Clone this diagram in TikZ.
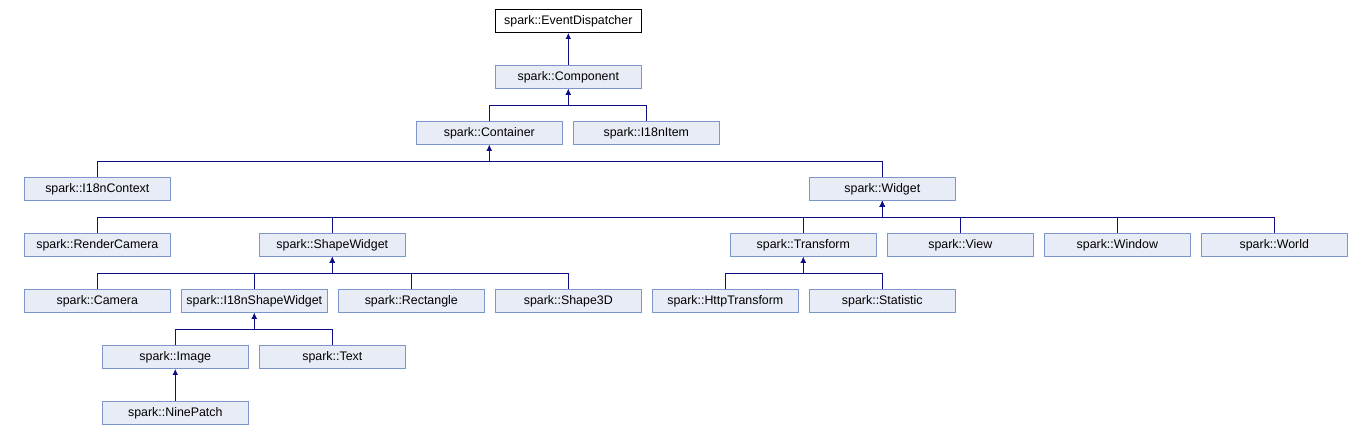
\documentclass[tikz,border=0pt]{standalone}
\usepackage{fontspec}
\setmainfont{Liberation Sans}
\usetikzlibrary{arrows.meta}
\definecolor{edgec}{HTML}{0D0D85}
\definecolor{boxfill}{HTML}{E8ECF6}
\definecolor{boxdraw}{HTML}{7C95CA}
\tikzset{
  cls/.style={draw=boxdraw, fill=boxfill, line width=1pt, minimum width=146pt, minimum height=23pt, inner sep=0pt, font=\fontsize{12.4}{14}\selectfont},
  rootcls/.style={cls, draw=black, fill=white},
  edge/.style={draw=edgec, line width=1pt, -{Latex[length=6pt,width=5.5pt]}},
}
\begin{document}
\begin{tikzpicture}[x=1pt,y=-1pt]
\useasboundingbox (0,0) rectangle (1370,435);
\node[rootcls] (ed) at (568.3,20.8) {spark::EventDispatcher};
\node[cls] (comp) at (568.3,76.8) {spark::Component};
\node[cls] (cont) at (489.3,132.8) {spark::Container};
\node[cls] (item) at (646.3,132.8) {spark::I18nItem};
\node[cls] (ctx) at (97.3,188.8) {spark::I18nContext};
\node[cls] (widget) at (882.3,188.8) {spark::Widget};
\node[cls] (rcam) at (97.3,244.8) {spark::RenderCamera};
\node[cls] (shw) at (332.3,244.8) {spark::ShapeWidget};
\node[cls] (trf) at (803.3,244.8) {spark::Transform};
\node[cls] (view) at (960.3,244.8) {spark::View};
\node[cls] (win) at (1117.3,244.8) {spark::Window};
\node[cls] (world) at (1274.3,244.8) {spark::World};
\node[cls] (cam) at (97.3,300.8) {spark::Camera};
\node[cls] (ishw) at (254.3,300.8) {spark::I18nShapeWidget};
\node[cls] (rect) at (411.3,300.8) {spark::Rectangle};
\node[cls] (s3d) at (568.3,300.8) {spark::Shape3D};
\node[cls] (http) at (725.3,300.8) {spark::HttpTransform};
\node[cls] (stat) at (882.3,300.8) {spark::Statistic};
\node[cls] (img) at (175.3,356.8) {spark::Image};
\node[cls] (txt) at (332.3,356.8) {spark::Text};
\node[cls] (nine) at (175.3,412.8) {spark::NinePatch};

\draw[edge] (comp.north) -- (ed.south);
\foreach \c in {cont,item} \draw[edge] (\c.north) |- ([yshift=-17pt]comp.south) -- (comp.south);
\foreach \c in {ctx,widget} \draw[edge] (\c.north) |- ([yshift=-17pt]cont.south) -- (cont.south);
\foreach \c in {rcam,shw,trf,view,win,world} \draw[edge] (\c.north) |- ([yshift=-17pt]widget.south) -- (widget.south);
\foreach \c in {cam,ishw,rect,s3d} \draw[edge] (\c.north) |- ([yshift=-17pt]shw.south) -- (shw.south);
\foreach \c in {http,stat} \draw[edge] (\c.north) |- ([yshift=-17pt]trf.south) -- (trf.south);
\foreach \c in {img,txt} \draw[edge] (\c.north) |- ([yshift=-17pt]ishw.south) -- (ishw.south);
\draw[edge] (nine.north) -- (img.south);
\end{tikzpicture}
\end{document}
